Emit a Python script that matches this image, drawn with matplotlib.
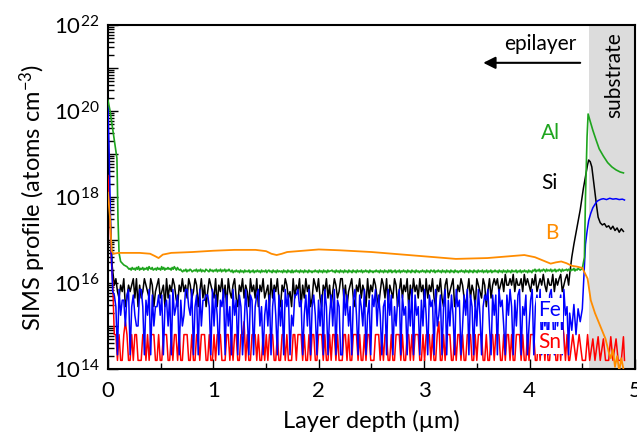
import numpy as np
import matplotlib
matplotlib.use("Agg")
import matplotlib.pyplot as plt
from matplotlib.ticker import FixedLocator, LogLocator, NullFormatter

plt.rcParams.update({
    "font.family": ["Lato", "DejaVu Sans"],
    "mathtext.fontset": "custom",
    "mathtext.rm": "Lato",
    "mathtext.it": "Lato",
    "mathtext.default": "regular",
    "font.size": 16,
})

# values are log10(concentration / atoms cm^-3).
# the noisy epilayer part is stored as quantised level codes, one per
# depth step, each code picking a level from the list next to it.
NOISE_START, NOISE_END = 0.06, 4.37
AL_START, AL_END = 0.20, 4.50

al_head_depth = [0.0, 0.02, 0.05, 0.085, 0.095, 0.105, 0.12, 0.15, 0.18]
al_head = [20.25, 20.0, 19.5, 18.9, 17.5, 16.7, 16.5, 16.42, 16.38]
al_levels = [16.20, 16.22, 16.24, 16.26, 16.28, 16.30, 16.32, 16.34, 16.36, 16.38]
al_codes = (
    "675867586957685768597685675867596857686758697586"
    "564354635465345463546354365436453546354635463546"
    "435243534253425343524352435342534352453425342534"
    "342534253425243534253425342534243534253425342534"
    "453425342534253425342534253435243534253424353425"
    "342534253524352435243534253425342534243534253425"
    "435243534253425342534253424353425342534253425343"
    "524352435243534253425342534253435243524353425342"
    "546354635465364546354635465364556465465746576567"
)
al_tail_depth = [4.52, 4.53, 4.545, 4.555, 4.57, 4.60, 4.63, 4.66, 4.70, 4.74, 4.78,
                 4.82, 4.86, 4.89]
al_tail = [16.6, 18.0, 19.4, 19.93, 19.8, 19.55, 19.33, 19.12, 18.95, 18.8, 18.7,
           18.63, 18.58, 18.56]

si_head_depth = [0.0, 0.02, 0.04]
si_head = [18.8, 17.6, 16.4]
si_levels = [15.2, 15.45, 15.65, 15.8, 15.95, 16.1, 16.2]
si_codes = (
    "453243512434525142354325413452341524354214353425"
    "423541352413543251435241532452143524315342514352"
    "341524352143542315243514253412543521435241354235"
    "524134521435243152435421354251432541352435142534"
    "253415243521435214523451243542135243154325413524"
    "545345364454635445364543546345464354463545634564"
)
si_tail_depth = [4.38, 4.40, 4.42, 4.45, 4.48, 4.51, 4.53, 4.55, 4.56, 4.575, 4.59,
                 4.605, 4.62, 4.635, 4.65, 4.67, 4.69, 4.71, 4.73, 4.75, 4.77, 4.79,
                 4.81, 4.83, 4.85, 4.87, 4.89]
si_tail = [16.2, 16.6, 16.9, 17.3, 17.7, 18.2, 18.47, 18.75, 18.86, 18.82, 18.7,
           18.4, 18.1, 17.8, 17.53, 17.4, 17.35, 17.38, 17.3, 17.33, 17.25, 17.32,
           17.22, 17.28, 17.18, 17.26, 17.2]

fe_head_depth = [0.0, 0.01, 0.02, 0.03, 0.045]
fe_head = [20.1, 19.2, 18.0, 16.8, 15.8]
fe_levels = [14.33, 15.0, 15.25, 15.45, 15.6, 15.72, 15.85]
fe_codes = (
    "530624415603521166304260513352503415062350412663"
    "260350614455306152043605130624053016205403561302"
    "415036205140635021556340251603520415063025160430"
    "062513046205316024053615203406250314605230416052"
    "304162053406125036041520634015260530416203546105"
    "250634105263041560325014603526041305620413506230"
)
fe_tail_depth = [4.38, 4.40, 4.42, 4.44, 4.46, 4.48, 4.50, 4.51, 4.52, 4.53, 4.545,
                 4.56, 4.58, 4.60, 4.62, 4.64, 4.66, 4.68, 4.70, 4.73, 4.76, 4.79,
                 4.82, 4.85, 4.88, 4.90]
fe_tail = [15.3, 14.9, 15.5, 14.8, 15.4, 15.1, 15.4, 15.9, 16.4, 16.9, 17.2,
           17.45, 17.62, 17.75, 17.83, 17.9, 17.93, 17.95, 17.96, 17.94, 17.97, 17.95,
           17.96, 17.94, 17.95, 17.93]

sn_head_depth = [0.0, 0.015, 0.03, 0.045]
sn_head = [18.5, 17.8, 16.6, 16.0]
sn_levels = [14.2, 14.8, 15.1]
sn_codes = (
    "110100121001011000110101110010011100101101001110"
    "010011011100100101110001101011001120100111010010"
    "101110010011010001101110100101100111010010110100"
    "011010011101001011000111010110010011101001101011"
    "100101110100120010111001011010011100101110010011"
    "011100101101001110100101110010110100111001021010"
)
sn_tail_depth = [4.38, 4.41, 4.44, 4.47, 4.50, 4.53, 4.55, 4.57, 4.60, 4.62, 4.65,
                 4.67, 4.70, 4.72, 4.75, 4.77, 4.79, 4.82, 4.84, 4.87, 4.89, 4.90]
sn_tail = [14.2, 14.8, 14.2, 14.8, 14.2, 14.2, 14.8, 14.2, 14.7, 14.2, 14.75,
           14.2, 14.7, 14.2, 14.2, 14.75, 14.2, 14.7, 14.2, 14.2, 14.75, 14.2]

b_depth = [0.0, 0.02, 0.035, 0.05, 0.1, 0.2, 0.3, 0.4, 0.45, 0.48, 0.52, 0.6, 0.8,
           1.0, 1.2, 1.4, 1.5, 1.55, 1.6, 1.65, 1.7, 1.9, 2.0, 2.2, 2.5, 2.7, 3.0,
           3.3, 3.6, 3.8, 3.95, 4.05, 4.15, 4.2, 4.25, 4.3, 4.35, 4.4, 4.45, 4.5,
           4.55, 4.58, 4.62, 4.67, 4.72, 4.75, 4.77, 4.79, 4.81, 4.83, 4.85, 4.87,
           4.89]
b_vals = [18.1, 17.5, 16.75, 16.68, 16.7, 16.7, 16.7, 16.68, 16.62, 16.58, 16.66,
          16.7, 16.72, 16.75, 16.77, 16.77, 16.74, 16.68, 16.65, 16.68, 16.72, 16.76,
          16.78, 16.76, 16.72, 16.68, 16.62, 16.56, 16.58, 16.62, 16.65, 16.6, 16.5,
          16.45, 16.48, 16.5, 16.46, 16.4, 16.38, 16.35, 16.1, 15.6, 15.3, 15.0,
          14.7, 14.4, 14.25, 14.45, 14.05, 14.3, 13.95, 14.25, 14.0]


def profile(head_d, head, codes, levels, start, end, tail_d, tail):
    noise = [levels[int(c)] for c in codes]
    d = np.concatenate([head_d, np.linspace(start, end, len(noise)), tail_d])
    v = np.concatenate([head, noise, tail])
    return d, 10.0 ** v


fig = plt.figure(figsize=(6.37, 4.36), dpi=100)
ax = fig.add_axes([0.1695, 0.1537, 0.8274, 0.789])

ax.axvspan(4.56, 5.0, color="#dcdcdc", lw=0, zorder=0)

d, v = profile(si_head_depth, si_head, si_codes, si_levels,
               NOISE_START, NOISE_END, si_tail_depth, si_tail)
ax.plot(d, v, color="black", lw=1.1, zorder=2)
d, v = profile(sn_head_depth, sn_head, sn_codes, sn_levels,
               NOISE_START, NOISE_END, sn_tail_depth, sn_tail)
ax.plot(d, v, color="#ff0000", lw=1.1, zorder=3)
d, v = profile(fe_head_depth, fe_head, fe_codes, fe_levels,
               NOISE_START, NOISE_END, fe_tail_depth, fe_tail)
ax.plot(d, v, color="#0000ff", lw=1.1, zorder=4)
d, v = profile(al_head_depth, al_head, al_codes, al_levels,
               AL_START, AL_END, al_tail_depth, al_tail)
ax.plot(d, v, color="#1ea51e", lw=1.2, zorder=5)
ax.plot(b_depth, 10.0 ** np.array(b_vals), color="#ff8c00", lw=1.3, zorder=6)

ax.set_yscale("log")
ax.set_xlim(0, 5)
ax.set_ylim(1e14, 1e22)

ax.yaxis.set_major_locator(FixedLocator([10.0 ** k for k in range(14, 23)]))
ax.set_yticklabels([f"$10^{{{k}}}$" if k % 2 == 0 else "" for k in range(14, 23)])
ax.yaxis.set_minor_locator(LogLocator(base=10, subs=range(2, 10), numticks=20))
ax.yaxis.set_minor_formatter(NullFormatter())
ax.set_xticks([0, 1, 2, 3, 4, 5])
ax.set_xticks(np.arange(0.5, 5, 1.0), minor=True)

ax.tick_params(which="both", direction="in", top=False, right=False, width=1.0)
ax.tick_params(which="major", length=7, labelsize=16, pad=6)
ax.tick_params(axis="x", which="major", pad=9)
ax.tick_params(which="minor", length=4)
for s in ax.spines.values():
    s.set_linewidth(1.5)

ax.set_xlabel("Layer depth (µm)", fontsize=17, labelpad=6)
ax.set_ylabel("SIMS profile (atoms cm$^{-3}$)", fontsize=17, labelpad=4)

lab = dict(fontsize=15, ha="center", va="center", zorder=10)
ax.text(4.2, 10 ** 19.49, "Al", color="#1ea51e", **lab)
ax.text(4.19, 10 ** 18.33, "Si", color="black", **lab)
ax.text(4.21, 10 ** 17.16, "B", color="#ff8c00", **lab)
box = dict(facecolor="white", edgecolor="none", pad=1.5)
ax.text(4.19, 10 ** 15.37, "Fe", color="#0000ff", bbox=box, **lab)
ax.text(4.19, 10 ** 14.63, "Sn", color="#ff0000", bbox=box, **lab)

ax.text(4.1, 10 ** 21.55, "epilayer", fontsize=15, ha="center", va="center")
ax.annotate("", xy=(3.56, 10 ** 21.12), xytext=(4.48, 10 ** 21.12),
            arrowprops=dict(arrowstyle="-|>", color="black", lw=1.5,
                            mutation_scale=18, shrinkA=0, shrinkB=0))
ax.text(4.8, 10 ** 20.84, "substrate", fontsize=15, rotation=90,
        ha="center", va="center")

fig.savefig("out.png", dpi=100)
